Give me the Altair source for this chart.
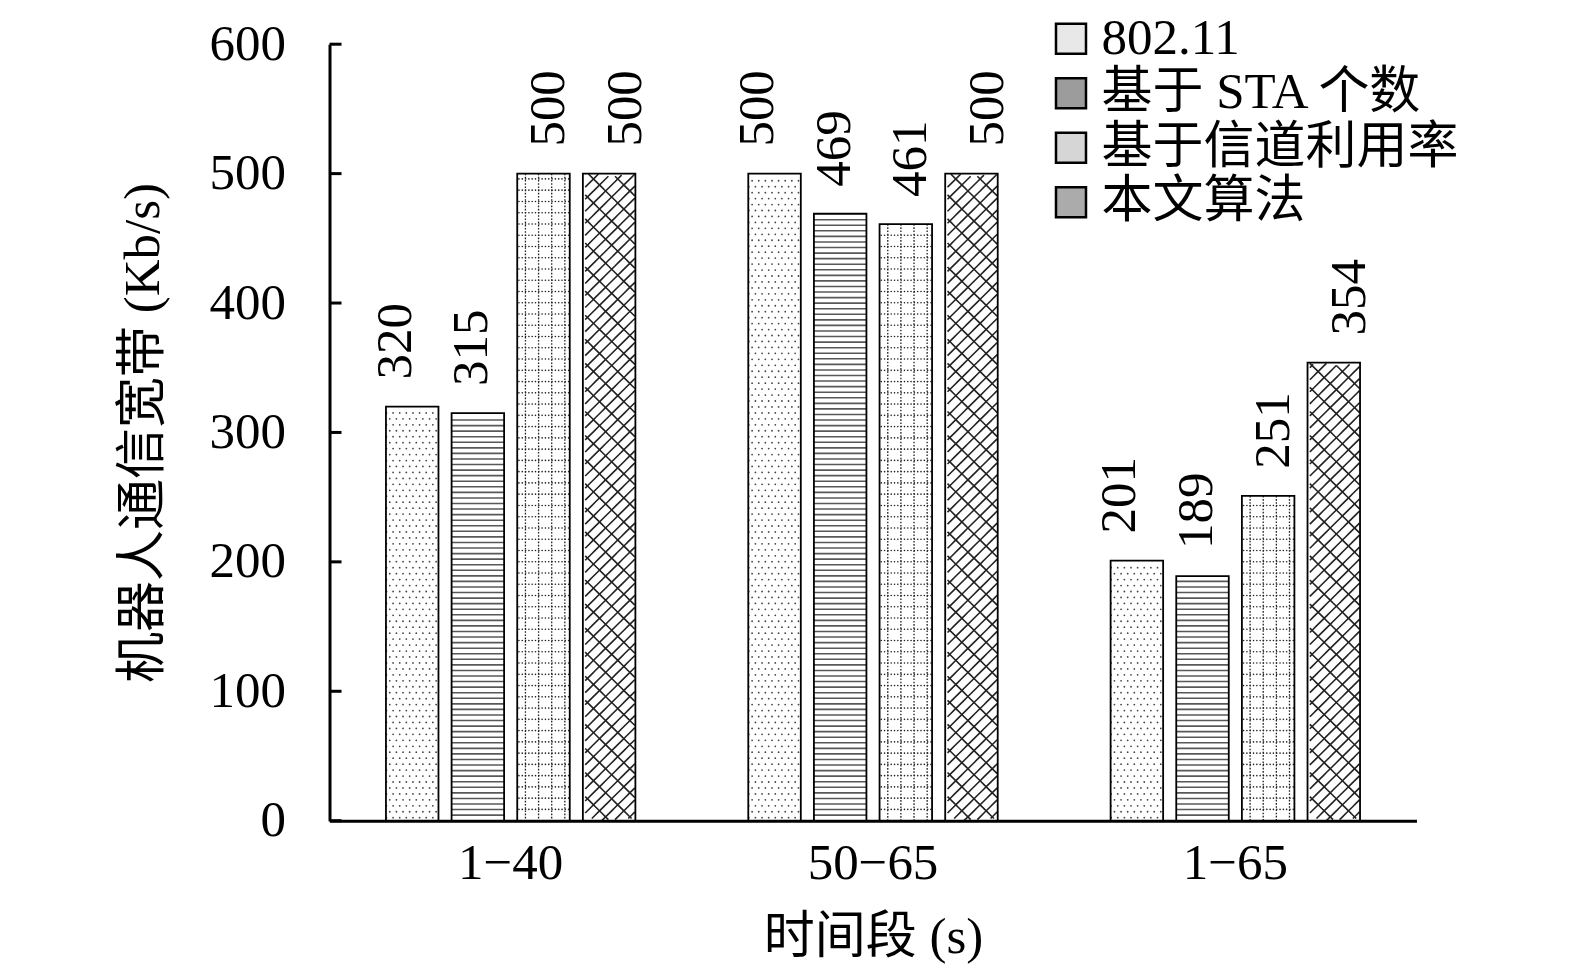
import altair as alt
import pandas as pd

periods = ["1−40", "50−65", "1−65"]
series = ["802.11", "基于 STA 个数", "基于信道利用率", "本文算法"]
v_80211 = [320, 500, 201]
v_sta = [315, 469, 189]
v_chan = [500, 461, 251]
v_ours = [500, 500, 354]
y_ticks = [0, 100, 200, 300, 400, 500, 600]
legend_tints = ["#e8e8e8", "#9c9c9c", "#d6d6d6", "#ababab"]

rows = []
for j, (s, vals) in enumerate(zip(series, [v_80211, v_sta, v_chan, v_ours])):
    for p, v in zip(periods, vals):
        rows.append({"period": p, "series": s, "sidx": j, "value": v})
df = pd.DataFrame(rows)
ticks_df = pd.DataFrame({"t": y_ticks})

FONT = "Liberation Serif, Noto Sans CJK SC"
W, H = 1087, 776.5
FS = 51

# band layout of the bars inside each period, and a fine sub-slot scale that
# lines up with it (16 sub-slots per bar, 4 per gap) for drawing the fill patterns
PI, PO = 0.2, 0.86
K, G = 16, 4
outer = PO * (K + G)           # outer padding in sub-slot steps
n_dummy = int(outer)
fine_domain = [f"L{i}" for i in range(n_dummy)]
for j in range(len(series)):
    fine_domain += [f"{j}:{c}" for c in range(K)]
    if j < len(series) - 1:
        fine_domain += [f"g{j}:{g}" for g in range(G)]
fine_domain += [f"R{i}" for i in range(n_dummy)]

band_px = W / len(periods)
bar_px = band_px / (len(series) - PI + 2 * PO) * (1 - PI)
px_per_unit = H / 600.0
D = (bar_px / K) / px_per_unit        # rise per sub-slot for 45 degree lines

x_axis = alt.Axis(title="时间段 (s)", labelAngle=0, ticks=False, domainWidth=3,
                  domainColor="black", labelFont=FONT, labelFontSize=FS,
                  labelColor="black", labelPadding=18, titleFont=FONT,
                  titleFontSize=FS, titleFontWeight="normal", titleColor="black",
                  titlePadding=24)
y_axis = alt.Axis(title="机器人通信宽带 (Kb/s)", values=y_ticks, ticks=False,
                  grid=False, domainWidth=3, domainColor="black", labelFont=FONT,
                  labelFontSize=FS, labelColor="black", labelPadding=44,
                  titleFont=FONT, titleFontSize=FS, titleFontWeight="normal",
                  titleColor="black", titlePadding=40)
x_scale = alt.Scale(domain=periods, paddingInner=0, paddingOuter=0)
xo_scale = alt.Scale(domain=series, paddingInner=PI, paddingOuter=PO)
fine_scale = alt.Scale(domain=fine_domain, paddingInner=0, paddingOuter=round(outer - n_dummy, 4))
y_scale = alt.Scale(domain=[0, 600], nice=False)


def X():
    return alt.X("period:N", sort=periods, scale=x_scale, axis=x_axis)


def XO():
    return alt.XOffset("series:N", sort=series, scale=xo_scale)


def XF():
    return alt.XOffset("slot:N", sort=fine_domain, scale=fine_scale)


def Y(field):
    return alt.Y(f"{field}:Q", scale=y_scale, axis=y_axis)


base = alt.Chart(df)

bars = base.mark_bar(fill="white", strokeWidth=0).encode(x=X(), xOffset=XO(), y=Y("value"))


def rows_of(sidx, step, start, m_top):
    return (alt.Chart(df)
            .transform_filter(alt.datum.sidx == sidx)
            .transform_calculate(rows=f"sequence(0, floor((datum.value - {start} - {m_top}) / {step}) + 1)")
            .transform_flatten(["rows"])
            .transform_calculate(yy=f"{start} + datum.rows * {step}"))


# 802.11 : staggered dots
dots = (rows_of(0, 4.6, 2.3, 2.0)
        .transform_calculate(cols="sequence(0, 8)")
        .transform_flatten(["cols"])
        .transform_calculate(slot="datum.sidx + ':' + (2 * datum.cols + datum.rows % 2)")
        .mark_circle(size=3.2, color="#444", opacity=1)
        .encode(x=X(), xOffset=XF(), y=Y("yy")))

# STA : horizontal lines
lines = (rows_of(1, 4.3, 4.3, 2.0)
         .mark_tick(orient="horizontal", thickness=1.6, size=round(bar_px, 2), color="#111")
         .encode(x=X(), xOffset=XO(), y=Y("yy")))

# channel utilisation : dotted grid
grid_h = (rows_of(2, 8.7, 8.7, 3.0)
          .transform_calculate(cols="sequence(0, 16)")
          .transform_flatten(["cols"])
          .transform_calculate(slot="datum.sidx + ':' + datum.cols")
          .mark_circle(size=2.6, color="#222", opacity=1)
          .encode(x=X(), xOffset=XF(), y=Y("yy")))
grid_v = (alt.Chart(df)
          .transform_filter(alt.datum.sidx == 2)
          .transform_calculate(cols="[2, 6, 10, 14]", zero="0")
          .transform_flatten(["cols"])
          .transform_calculate(slot="datum.sidx + ':' + datum.cols")
          .mark_rule(color="#222", strokeWidth=1.3, strokeDash=[1.6, 1.6])
          .encode(x=X(), xOffset=XF(), y=Y("value"), y2=alt.Y2("zero:Q")))

# proposed algorithm : rotated brick-like hatch (dense rising lines, sparser falling lines)
hatch = (alt.Chart(df)
         .transform_filter(alt.datum.sidx == 3)
         .transform_calculate(fam="[1, -1]")
         .transform_flatten(["fam"])
         .transform_calculate(pp="datum.fam > 0 ? 9.3 : 18.6")
         .transform_calculate(ln=f"sequence(0, floor((datum.value + {2 * K * D}) / datum.pp) + 1)")
         .transform_flatten(["ln"])
         .transform_calculate(cols=f"sequence(0, {K})")
         .transform_flatten(["cols"])
         .transform_calculate(
             yy=f"-{K * D / 2} + datum.ln * datum.pp + datum.fam * (datum.cols - {K / 2}) * {D}",
             slot="datum.sidx + ':' + datum.cols",
             lid="datum.period + '|' + datum.fam + '|' + datum.ln")
         .transform_filter("datum.yy >= 0 && datum.yy <= datum.value")
         .mark_line(color="#222", strokeWidth=1.6)
         .encode(x=X(), xOffset=XF(), y=Y("yy"), detail="lid:N", order="cols:Q"))

outline = base.mark_bar(fill="transparent", stroke="black", strokeWidth=1.8).encode(
    x=X(), xOffset=XO(), y=Y("value"))

labels = base.mark_text(angle=270, align="left", baseline="middle", dx=27, font=FONT,
                        fontSize=FS, color="black").encode(
    x=X(), xOffset=XO(), y=Y("value"), text=alt.Text("value:Q", format="d"))

legend_layer = base.transform_filter("false").mark_square(
    size=900, stroke="black", strokeWidth=2.5, opacity=1).encode(
    x=X(), y=Y("value"),
    fill=alt.Fill("series:N", sort=series,
                  scale=alt.Scale(domain=series, range=legend_tints),
                  legend=alt.Legend(orient="none", legendX=716, legendY=-31, title=None,
                                    labelFont=FONT, labelFontSize=FS, labelColor="black",
                                    symbolType="square", symbolSize=900,
                                    symbolStrokeWidth=2.5, symbolStrokeColor="black",
                                    rowPadding=2.5, labelOffset=5, padding=0,
                                    labelLimit=600)))

yticks = alt.Chart(ticks_df).mark_rule(color="black", strokeWidth=3).encode(
    y=Y("t"), x=alt.value(0), x2=alt.value(12))

chart = alt.layer(bars, dots, lines, grid_h, grid_v, hatch, outline, labels,
                  legend_layer, yticks).resolve_scale(xOffset="independent").properties(
    width=W, height=H,
    autosize=alt.AutoSizeParams(type="none"),
    padding={"left": 321.5, "top": 36.2, "right": 100, "bottom": 145},
).configure(background="white").configure_view(stroke=None)

chart.save("out.html", embed_options={"renderer": "svg", "actions": False})
